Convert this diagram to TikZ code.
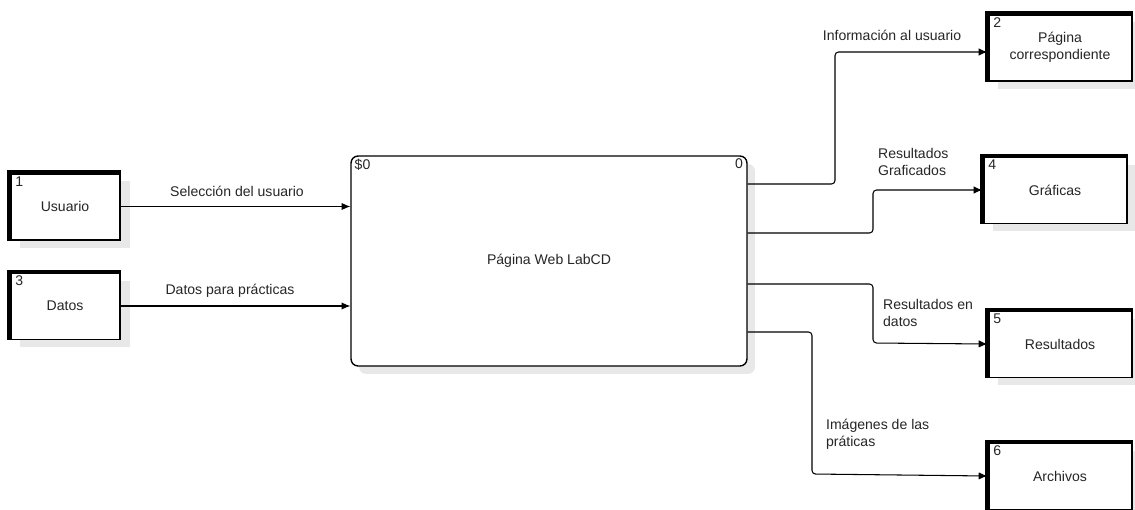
\documentclass[tikz,border=0pt]{standalone}
\usepackage{fontspec}
\setmainfont{Liberation Sans}
\usetikzlibrary{arrows.meta,shadows}

\begin{document}
\begin{tikzpicture}[
    x=0.02cm, y=-0.02cm,
    every node/.style={font=\fontsize{8}{9.5}\selectfont, text=black!85},
    entity/.style={draw, line width=0.6pt, fill=white, minimum width=2.2cm, minimum height=1.34cm, align=center,
        drop shadow={shadow xshift=0.2cm, shadow yshift=-0.16cm, fill=black!9, opacity=1}},
    wide/.style={minimum width=2.88cm},
    num/.style={anchor=north west, inner sep=1.5pt, xshift=1.6pt, yshift=-0.6pt},
    proc/.style={draw, line width=0.8pt, rounded corners=4pt, fill=white, minimum width=7.92cm, minimum height=4.2cm,
        drop shadow={shadow xshift=0.16cm, shadow yshift=-0.16cm, fill=black!9, opacity=1}},
    arr/.style={-{Latex[length=5pt,width=4.2pt]}, line width=0.6pt, rounded corners=2pt},
    lbl/.style={align=left, inner sep=1pt}
]
\useasboundingbox (0,0) rectangle (1135,510);

% external entities
\node[entity, label={[num]north west:1}] (usu) at (65,206.5) {Usuario};
\node[entity, label={[num]north west:3}] (dat) at (65,306) {Datos};
\node[entity, wide, label={[num]north west:2}] (pag) at (1060,47.5) {Página\\correspondiente};
\node[entity, wide, label={[num]north west:4}] (gra) at (1055,190) {Gráficas};
\node[entity, wide, label={[num]north west:5}] (res) at (1060,344) {Resultados};
\node[entity, wide, label={[num]north west:6}] (arc) at (1060,476) {Archivos};
\foreach \n in {usu,dat,pag,gra,res,arc}
    \draw[line width=2.4pt] (\n.south west) -- (\n.north west) -- (\n.north east);

% process
\node[proc, label={[num, xshift=-0.8pt]north west:\$0}, label={[anchor=north east, inner sep=1.5pt, xshift=-1pt]north east:0}] (web) at (549,261) {\raisebox{-0.16cm}{Página Web LabCD}};

% flows
\draw[arr] (usu.east) -- (web.west |- usu.east);
\draw[arr] (dat.east) -- (web.west |- dat.east);
\draw[arr] (web.east |- 0,184) -| (835,52) -- (pag.west |- 0,52);
\draw[arr] (web.east |- 0,233) -| (873,190) -- (gra.west);
\draw[arr] (web.east |- 0,284) -| (873,343) -- (res.west);
\draw[arr] (web.east |- 0,332) -| (812,474) -- (arc.west);

\node (lsel) at (237,191) {Selección del usuario};
\node (ldat) at (230,291) {Datos para prácticas};
\node (linf) at (892,35) {Información al usuario};
\node[lbl, anchor=west] (lgra) at (876,162) {Resultados\\Graficados};
\node[lbl, anchor=west] (lres) at (881,313) {Resultados en\\datos};
\node[lbl, anchor=west] (limg) at (824,434) {Imágenes de las\\práticas};
\end{tikzpicture}
\end{document}
